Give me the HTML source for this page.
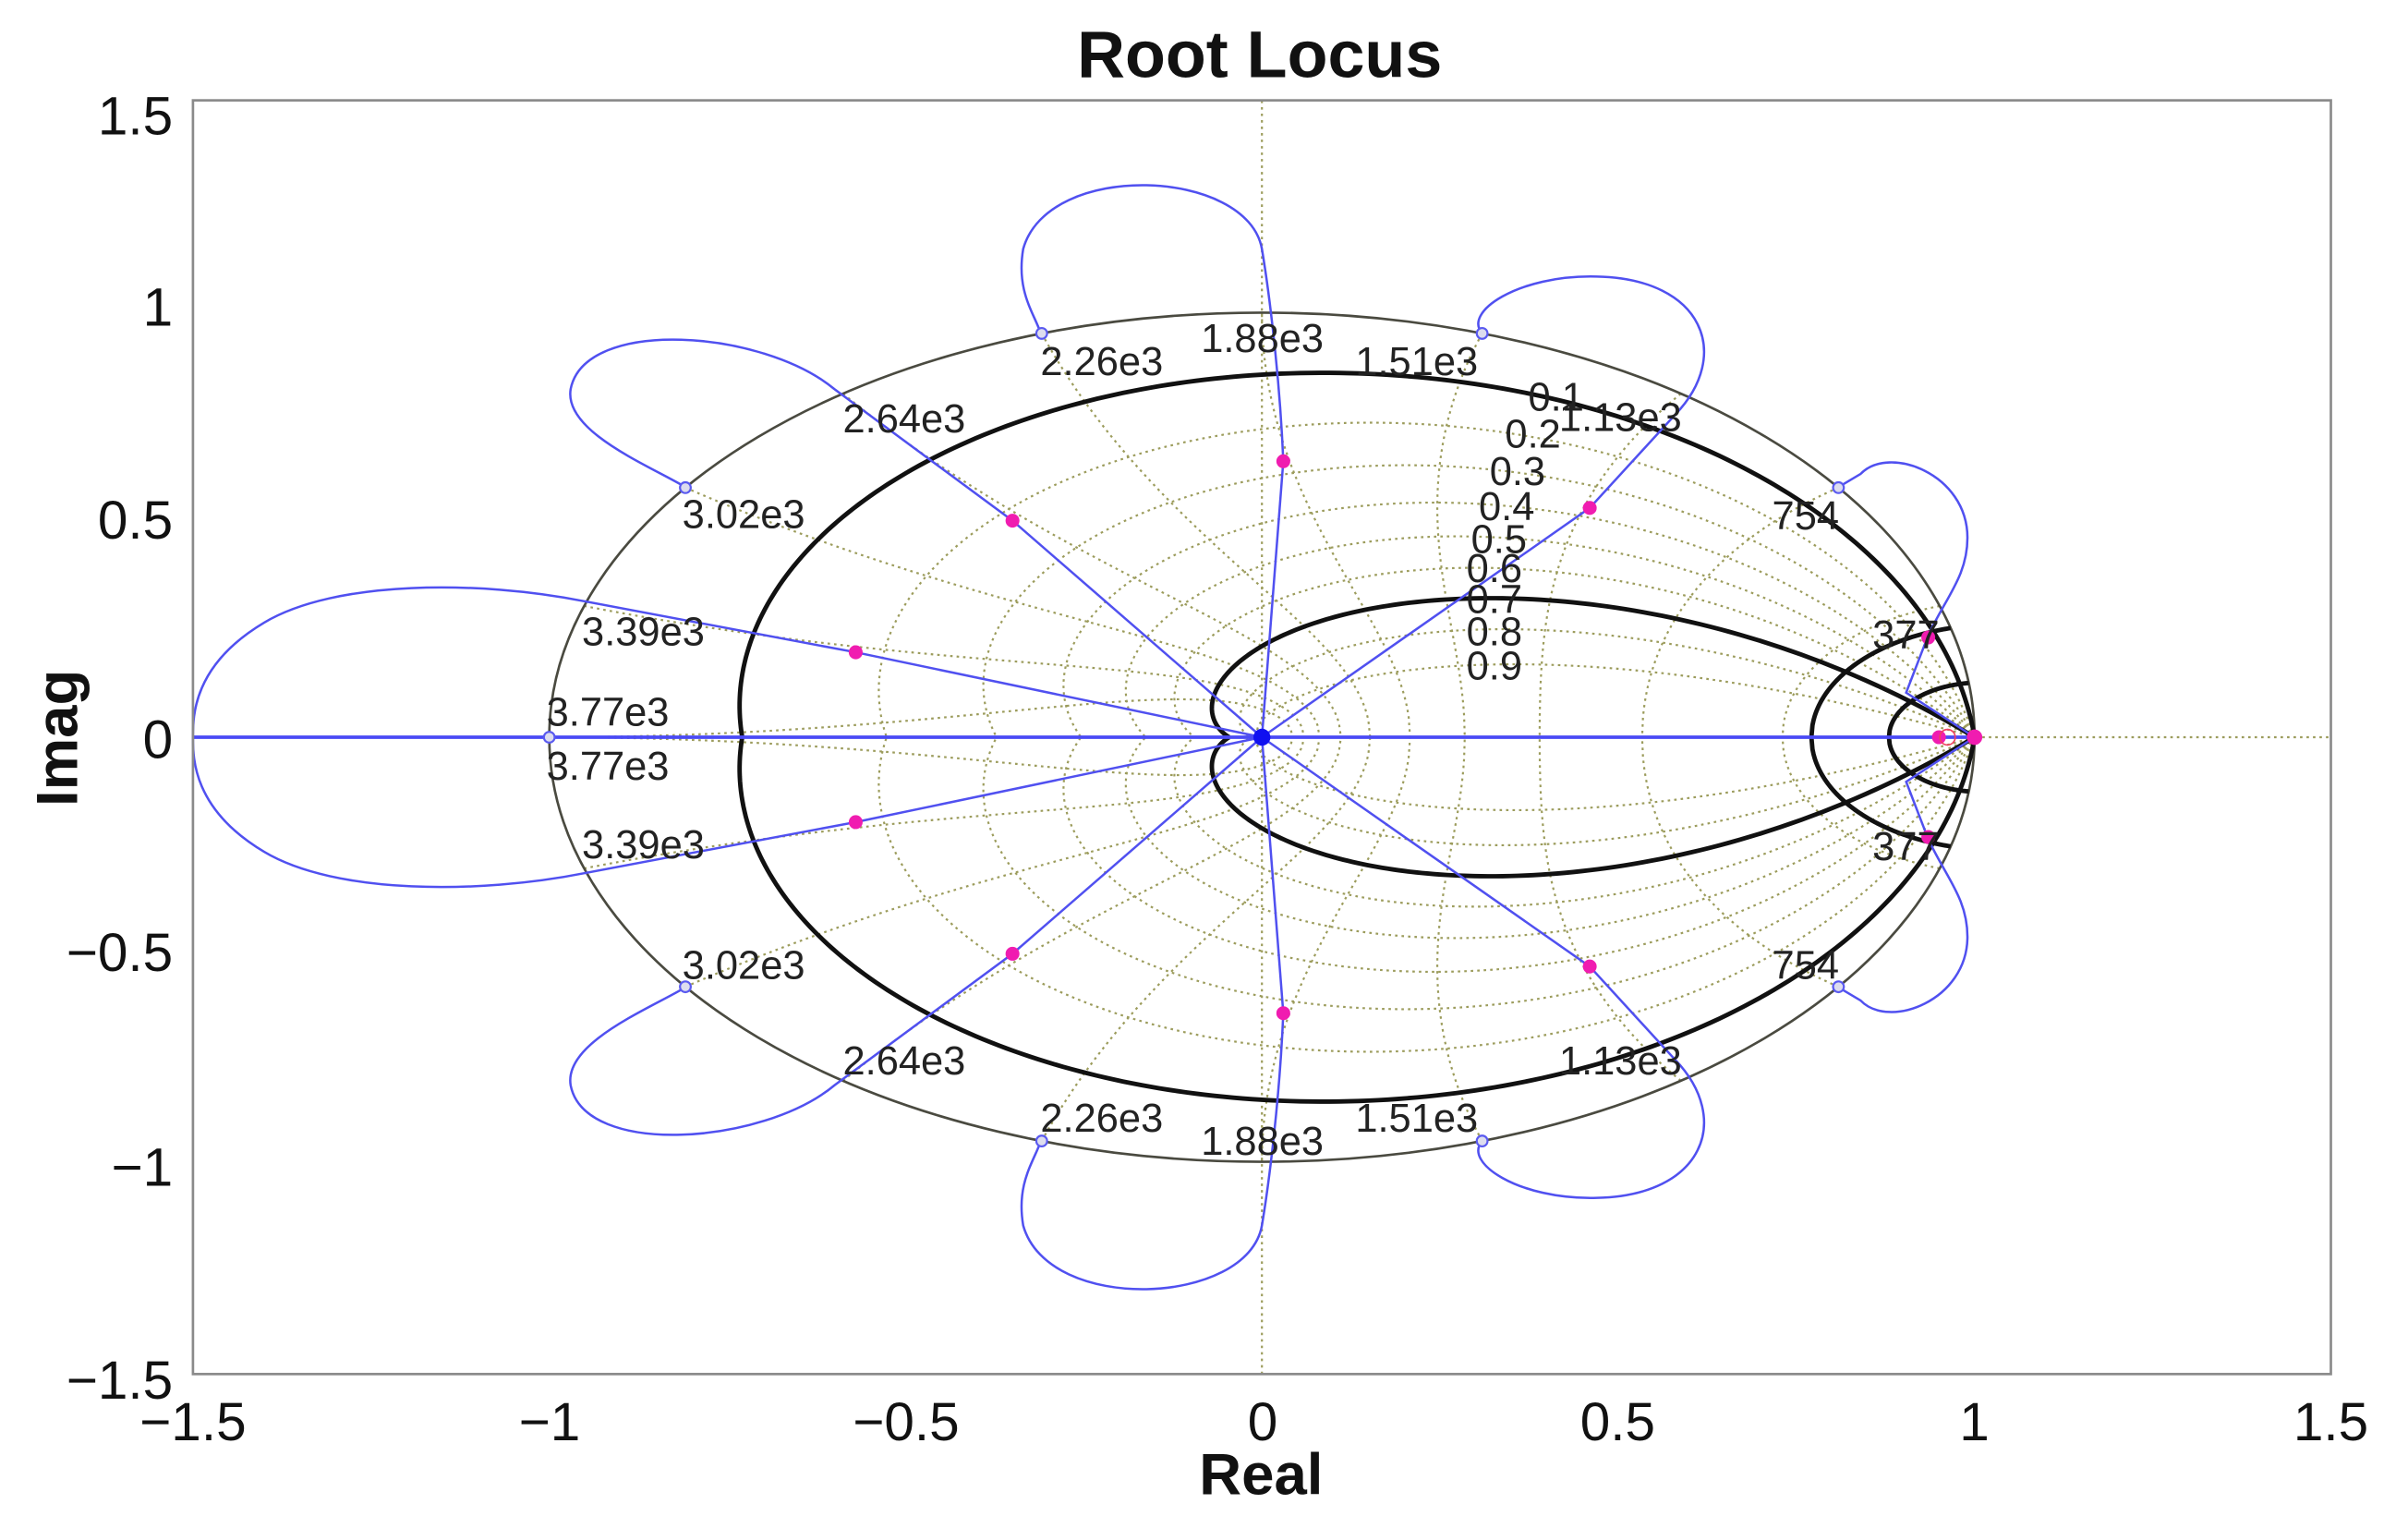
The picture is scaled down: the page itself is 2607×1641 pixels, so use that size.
<!DOCTYPE html>
<html><head><meta charset="utf-8"><style>
html,body{margin:0;padding:0;background:#fff;}
svg{display:block;}
text{font-family:"Liberation Sans",Arial,sans-serif;}
</style></head><body>
<svg id="s" width="2607" height="1641" viewBox="0 0 2607 1641" xmlns="http://www.w3.org/2000/svg">
<rect width="2607" height="1641" fill="#fff"/>
<g transform="scale(1.6712)">
<g id="grid"></g>
<g id="curves"></g>
<rect x="125" y="65" width="1385" height="825" fill="none" stroke="#8a8a8a" stroke-width="1.6"/>
<g font-size="26" fill="#222">
<text x="778" y="228">1.88e3</text>
<text x="674" y="243">2.26e3</text>
<text x="878" y="243">1.51e3</text>
<text x="546" y="280">2.64e3</text>
<text x="442" y="342">3.02e3</text>
<text x="377" y="418">3.39e3</text>
<text x="354" y="470">3.77e3</text>
<text x="354" y="505">3.77e3</text>
<text x="377" y="556">3.39e3</text>
<text x="442" y="634">3.02e3</text>
<text x="546" y="696">2.64e3</text>
<text x="674" y="733">2.26e3</text>
<text x="778" y="748">1.88e3</text>
<text x="878" y="733">1.51e3</text>
<text x="1010" y="279">1.13e3</text>
<text x="1010" y="696">1.13e3</text>
<text x="990" y="266">0.1</text>
<text x="975" y="290">0.2</text>
<text x="965" y="314">0.3</text>
<text x="958" y="337">0.4</text>
<text x="953" y="358">0.5</text>
<text x="950" y="377">0.6</text>
<text x="950" y="397">0.7</text>
<text x="950" y="418">0.8</text>
<text x="950" y="440">0.9</text>
<text x="1148" y="343">754</text>
<text x="1148" y="634">754</text>
<text x="1213" y="420">377</text>
<text x="1213" y="557">377</text>
</g>
<g font-size="35" fill="#111" text-anchor="end">
<text x="112" y="87">1.5</text>
<text x="112" y="211">1</text>
<text x="112" y="349">0.5</text>
<text x="112" y="491">0</text>
<text x="112" y="629">−0.5</text>
<text x="112" y="768">−1</text>
<text x="112" y="906">−1.5</text>
</g>
<g font-size="35" fill="#111" text-anchor="middle">
<text x="125" y="933">−1.5</text>
<text x="356" y="933">−1</text>
<text x="587" y="933">−0.5</text>
<text x="818" y="933">0</text>
<text x="1048" y="933">0.5</text>
<text x="1279" y="933">1</text>
<text x="1510" y="933">1.5</text>
</g>
<text x="816" y="50" font-size="43" font-weight="bold" text-anchor="middle" fill="#111">Root Locus</text>
<text x="817" y="968" font-size="38" font-weight="bold" text-anchor="middle" fill="#111">Real</text>
<text transform="translate(50,478) rotate(-90)" font-size="38" font-weight="bold" text-anchor="middle" fill="#111">Imag</text>
</g>
</svg>
<script>
(function(){
var NS="http://www.w3.org/2000/svg";
function X(x){return 817.5+461.67*x;}
function Y(y){return 477.5-275*y;}
function el(parent,tag,attrs){var e=document.createElementNS(NS,tag);for(var k in attrs)e.setAttribute(k,attrs[k]);parent.appendChild(e);return e;}
var grid=document.getElementById('grid'),cur=document.getElementById('curves');
function poly(pts){var d='';for(var i=0;i<pts.length;i++){d+=(i?'L':'M')+X(pts[i][0]).toFixed(2)+','+Y(pts[i][1]).toFixed(2);}return d;}
function zetaPts(z,sign){var p=[],k=z/Math.sqrt(1-z*z);for(var i=0;i<=200;i++){var t=Math.PI*i/200,r=Math.exp(-k*t);p.push([r*Math.cos(t),sign*r*Math.sin(t)]);}return p;}
function wnPts(w,sign){var p=[];for(var i=0;i<=100;i++){var z=i/100,r=Math.exp(-z*w),t=w*Math.sqrt(1-z*z);p.push([r*Math.cos(t),sign*r*Math.sin(t)]);}return p;}
var gs={fill:'none',stroke:'#9c9c5c','stroke-width':1.3,'stroke-dasharray':'1.6 2.6'};
for(var s=-1;s<=1;s+=2){
 for(var z=1;z<=9;z++){var a=Object.assign({},gs);a.d=poly(zetaPts(z/10,s));el(grid,'path',a);}
 for(var k=1;k<=10;k++){var a=Object.assign({},gs);a.d=poly(wnPts(k*Math.PI/10,s));el(grid,'path',a);}
}
el(grid,'path',Object.assign({},gs,{d:poly([[-1.5,0],[1.5,0]])}));
el(grid,'path',Object.assign({},gs,{d:poly([[0,-1.5],[0,1.5]])}));
el(grid,'ellipse',{cx:X(0),cy:Y(0),rx:461.67,ry:275,fill:'none',stroke:'#4a4a40','stroke-width':1.6});
var bs={fill:'none',stroke:'#111','stroke-width':2.9};
for(var s=-1;s<=1;s+=2){
 el(cur,'path',Object.assign({},bs,{d:poly(zetaPts(0.1,s))}));
 el(cur,'path',Object.assign({},bs,{d:poly(zetaPts(0.7,s))}));
 el(cur,'path',Object.assign({},bs,{d:poly(wnPts(0.26,s))}));
 el(cur,'path',Object.assign({},bs,{d:poly(wnPts(0.128,s))}));
}
function bez(cmds,sign){var d='';cmds.forEach(function(c){d+=c[0];for(var i=1;i<c.length;i+=2){d+=X(c[i]).toFixed(2)+','+Y(sign*c[i+1]).toFixed(2)+' ';}});return d;}
var branches=[
 [['M',0,0],['L',0.03,0.65],['C',0.025,0.85,0.01,1.05,0.0,1.15],['C',-0.02,1.34,-0.3,1.36,-0.335,1.15],['C',-0.345,1.05,-0.32,1.0,-0.31,0.95]],
 [['M',0,0],['L',0.46,0.54],['L',0.58,0.76],['C',0.66,0.9,0.62,1.08,0.47,1.085],['C',0.36,1.09,0.28,1.0,0.31,0.95]],
 [['M',1,0],['L',0.904,0.105],['L',0.935,0.24],['C',0.96,0.33,0.99,0.38,0.99,0.47],['C',0.99,0.62,0.88,0.69,0.84,0.62],['L',0.81,0.59]],
 [['M',0,0],['L',-0.35,0.51],['L',-0.6,0.82],['C',-0.7,0.96,-0.95,0.99,-0.97,0.82],['C',-0.98,0.72,-0.86,0.64,-0.81,0.59]],
 [['M',0,0],['L',-0.57,0.2],['L',-0.95,0.32],['C',-1.1,0.37,-1.3,0.37,-1.4,0.27],['C',-1.5,0.17,-1.5,0.05,-1.5,0]]
];
var bl={fill:'none',stroke:'#5050f0','stroke-width':1.5};
for(var s=-1;s<=1;s+=2){branches.forEach(function(b){el(cur,'path',Object.assign({},bl,{d:bez(b,s)}));});}
el(cur,'path',{d:poly([[-1.5,0],[1,0]]),stroke:'#4a4af5','stroke-width':2.2,fill:'none'});
for(var k=1;k<10;k++){var t=Math.PI*k/5;el(cur,'circle',{cx:X(Math.cos(t)),cy:Y(Math.sin(t)),r:3.5,fill:'#dde',stroke:'#5a5af0','stroke-width':1.3});}
[[-0.57,0.2],[-0.35,0.51],[0.03,0.65],[0.46,0.54],[0.935,0.235]].forEach(function(p){
 el(cur,'circle',{cx:X(p[0]),cy:Y(p[1]),r:4.5,fill:'#f01cb0'});
 el(cur,'circle',{cx:X(p[0]),cy:Y(-p[1]),r:4.5,fill:'#f01cb0'});});
el(cur,'circle',{cx:X(0.95),cy:Y(0),r:4.5,fill:'#f01cb0'});
el(cur,'circle',{cx:X(0.962),cy:Y(0),r:5,fill:'none',stroke:'#f04060','stroke-width':1});
el(cur,'circle',{cx:X(1.0),cy:Y(0),r:5,fill:'#f01cb0'});
el(cur,'circle',{cx:X(0),cy:Y(0),r:5.5,fill:'#1010f0'});
})();
</script>
</body></html>
